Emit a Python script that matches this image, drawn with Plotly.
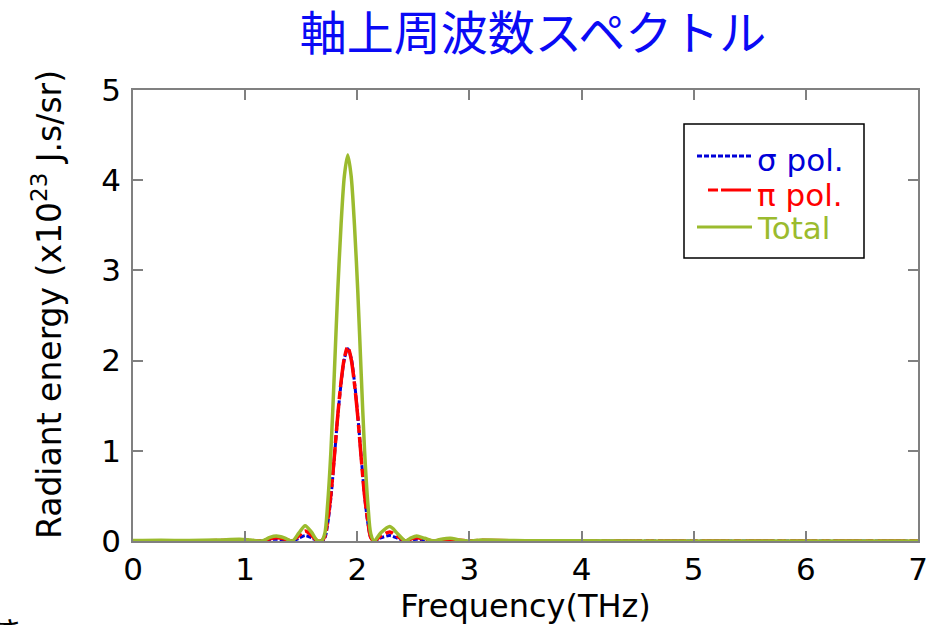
import plotly.graph_objects as go

# Frequency samples (THz)
freq = [0.0, 0.25, 0.5, 0.75, 0.95, 1.05, 1.15, 1.22, 1.28, 1.35, 1.42, 1.48,
        1.535, 1.59, 1.64, 1.68, 1.71, 1.735, 1.765, 1.795, 1.825, 1.855, 1.885,
        1.915, 1.945, 1.975, 2.005, 2.035, 2.065, 2.095, 2.12, 2.15, 2.21, 2.29,
        2.36, 2.43, 2.48, 2.53, 2.60, 2.68, 2.75, 2.83, 2.91, 3.0, 3.1, 3.25,
        3.5, 4.0, 5.0, 6.0, 7.0]

# Radiant energy (x10^-23 J.s/sr)
sigma_pol = [0.002, 0.004, 0.002, 0.005, 0.008, 0.004, 0.0, 0.015, 0.02, 0.012,
             0.0, 0.03, 0.06, 0.035, 0.005, 0.0, 0.03, 0.18, 0.48, 0.92, 1.37,
             1.74, 2.02, 2.13, 2.03, 1.76, 1.38, 0.93, 0.5, 0.19, 0.04, 0.0,
             0.035, 0.06, 0.03, 0.0, 0.012, 0.02, 0.01, 0.0, 0.006, 0.01, 0.004,
             0.0, 0.004, 0.003, 0.001, 0.001, 0.0, 0.0, 0.0]

pi_pol = [0.003, 0.004, 0.003, 0.005, 0.012, 0.006, 0.0, 0.025, 0.035, 0.023,
          0.0, 0.06, 0.11, 0.065, 0.005, 0.0, 0.05, 0.22, 0.52, 0.93, 1.38,
          1.76, 2.03, 2.15, 2.02, 1.74, 1.37, 0.92, 0.5, 0.21, 0.04, 0.0,
          0.055, 0.10, 0.05, 0.0, 0.023, 0.035, 0.02, 0.0, 0.014, 0.02, 0.008,
          0.0, 0.008, 0.005, 0.002, 0.001, 0.001, 0.001, 0.001]

total = [0.005, 0.008, 0.005, 0.01, 0.02, 0.01, 0.0, 0.04, 0.055, 0.035,
         0.0, 0.09, 0.17, 0.10, 0.01, 0.0, 0.08, 0.4, 1.0, 1.85, 2.75,
         3.5, 4.05, 4.28, 4.05, 3.5, 2.75, 1.85, 1.0, 0.4, 0.08, 0.0,
         0.09, 0.16, 0.08, 0.0, 0.035, 0.055, 0.03, 0.0, 0.02, 0.03, 0.012,
         0.0, 0.012, 0.008, 0.003, 0.002, 0.001, 0.001, 0.001]

x_ticks = [0, 1, 2, 3, 4, 5, 6, 7]
y_ticks = [0, 1, 2, 3, 4, 5]

title_text = "軸上周波数スペクトル"
series_names = ["σ pol.", "π pol.", "Total"]

BLUE = "#0000D8"
RED = "#FF0000"
GREEN = "#9BBB2E"
AXIS_GRAY = "#808080"
FONT = "DejaVu Sans"

fig = go.Figure()
fig.add_trace(go.Scatter(x=freq, y=sigma_pol, mode="lines", name=series_names[0],
                         line=dict(color=BLUE, width=3, dash="5px,2px", shape="spline", smoothing=0.8)))
fig.add_trace(go.Scatter(x=freq, y=pi_pol, mode="lines", name=series_names[1],
                         line=dict(color=RED, width=3.5, dash="28px,4px,8px,4px", shape="spline", smoothing=0.8)))
fig.add_trace(go.Scatter(x=freq, y=total, mode="lines", name=series_names[2],
                         line=dict(color=GREEN, width=3.5, shape="spline", smoothing=0.8)))

# plot area in pixels
L, R, T, B = 133, 918, 90, 541
W, H = 948, 625


def px(x):
    return (x - L) / (R - L)


def py(y):
    return (B - y) / (B - T)


shapes = []
annotations = []

# legend box
shapes.append(dict(type="rect", xref="paper", yref="paper",
                   x0=px(684), x1=px(864), y0=py(258), y1=py(124),
                   line=dict(color="black", width=1.5), fillcolor="white", layer="above"))
legend_rows = [
    (series_names[0], BLUE, "5px,2px", 697, 156, 160),
    (series_names[1], RED, "10px,3px,30px,3px", 708, 190, 195),
    (series_names[2], GREEN, "solid", 697, 227, 228),
]
for name, col, dash, lx0, ly, ty in legend_rows:
    shapes.append(dict(type="line", xref="paper", yref="paper",
                       x0=px(lx0), x1=px(752), y0=py(ly), y1=py(ly),
                       line=dict(color=col, width=3, dash=dash), layer="above"))
    annotations.append(dict(text=name, xref="paper", yref="paper",
                            x=px(755), y=py(ty), xanchor="left", yanchor="middle",
                            showarrow=False, font=dict(family=FONT, size=31, color=col)))

# y-axis title
annotations.append(dict(text="Radiant energy (x10<sup>23</sup> J.s/sr)", xref="paper", yref="paper",
                        x=px(47), y=py(305), xanchor="center", yanchor="middle",
                        textangle=-90, showarrow=False,
                        font=dict(family=FONT, size=33, color="black")))

# fragment of slide text at the lower-left edge
annotations.append(dict(text="き", xref="paper", yref="paper",
                        x=px(-8), y=py(630), xanchor="left", yanchor="middle",
                        showarrow=False,
                        font=dict(family="Noto Sans CJK JP", size=30, color="black")))

fig.update_layout(
    width=W, height=H,
    margin=dict(l=L, r=W - R, t=T, b=H - B),
    paper_bgcolor="white", plot_bgcolor="white",
    showlegend=False,
    shapes=shapes, annotations=annotations,
    font=dict(family=FONT, size=31, color="black"),
    title=dict(text=title_text, x=533 / W, xref="container", xanchor="center",
               y=1 - 34 / H, yref="container", yanchor="middle",
               font=dict(family="Noto Sans CJK JP", size=47, color="#0A0AF5")),
)
fig.update_xaxes(range=[0, 7], tickvals=x_ticks, ticktext=[str(v) for v in x_ticks],
                 showgrid=False, zeroline=False, showline=True, linecolor=AXIS_GRAY, linewidth=1.5,
                 mirror="ticks", ticks="inside", ticklen=10, tickwidth=1.5, tickcolor=AXIS_GRAY,
                 tickfont=dict(family=FONT, size=31, color="black"),
                 title=dict(text="Frequency(THz)", font=dict(family=FONT, size=32, color="black"), standoff=0))
fig.update_yaxes(range=[0, 5], tickvals=y_ticks, ticktext=[str(v) for v in y_ticks],
                 showgrid=False, zeroline=False, showline=True, linecolor=AXIS_GRAY, linewidth=1.5,
                 mirror="ticks", ticks="inside", ticklen=10, tickwidth=1.5, tickcolor=AXIS_GRAY,
                 tickfont=dict(family=FONT, size=31, color="black"), ticklabelstandoff=4)

fig.write_html("out.html")
